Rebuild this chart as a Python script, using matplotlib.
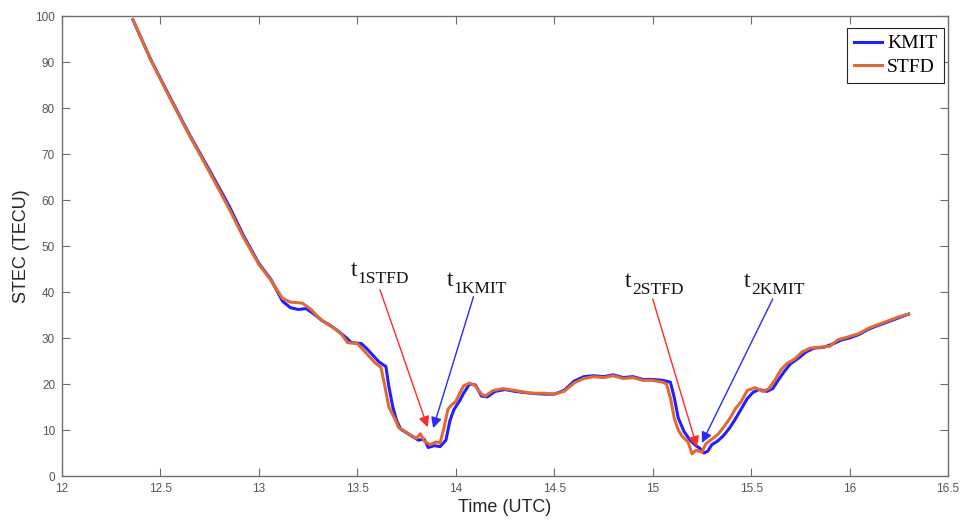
import matplotlib
matplotlib.use("Agg")
import matplotlib.pyplot as plt
from matplotlib.transforms import offset_copy

# STEC series (hours UTC, TECU)
stfd_t = [12.36, 12.45, 12.55, 12.65, 12.75, 12.85, 12.92, 13.00, 13.06, 13.12,
          13.16, 13.22, 13.26, 13.30, 13.34, 13.38, 13.42, 13.45, 13.50, 13.53,
          13.56, 13.59, 13.62, 13.64, 13.66, 13.69, 13.71, 13.74, 13.77, 13.80,
          13.82, 13.84, 13.87, 13.90, 13.92, 13.94, 13.96, 13.98, 14.00, 14.02,
          14.04, 14.07, 14.10, 14.13, 14.15, 14.19, 14.24, 14.30, 14.38, 14.45,
          14.50, 14.55, 14.60, 14.65, 14.70, 14.75, 14.80, 14.85, 14.90, 14.95,
          15.00, 15.05, 15.07, 15.09, 15.11, 15.13, 15.15, 15.18, 15.20, 15.22,
          15.25, 15.27, 15.30, 15.33, 15.36, 15.39, 15.42, 15.45, 15.48, 15.52,
          15.56, 15.59, 15.62, 15.65, 15.68, 15.72, 15.76, 15.80, 15.85, 15.90,
          15.94, 15.99, 16.05, 16.10, 16.15, 16.20, 16.25, 16.30]
stfd_v = [99.2, 90.5, 82.0, 73.8, 66.0, 58.0, 52.0, 46.0, 42.6, 38.6,
          37.8, 37.6, 36.4, 34.6, 33.2, 32.2, 30.8, 29.0, 28.8, 27.4,
          26.0, 24.6, 23.6, 19.5, 15.0, 12.5, 10.5, 9.8, 8.8, 8.2,
          9.2, 7.6, 6.8, 7.4, 7.2, 10.5, 14.5, 15.5, 16.2, 18.0,
          19.6, 20.2, 19.6, 17.8, 17.4, 18.6, 19.0, 18.6, 18.0, 18.0,
          17.8, 18.4, 20.2, 21.2, 21.6, 21.4, 21.8, 21.2, 21.4, 20.8,
          20.8, 20.4, 20.0, 17.0, 12.5, 10.0, 8.6, 7.4, 4.8, 5.6,
          5.2, 7.0, 8.0, 9.0, 10.6, 12.4, 14.6, 16.2, 18.6, 19.2,
          18.4, 19.0, 20.8, 23.0, 24.4, 25.4, 27.0, 27.8, 28.0, 28.2,
          29.6, 30.2, 31.0, 32.2, 33.0, 33.8, 34.6, 35.2]

kmit_t = [12.36, 12.45, 12.55, 12.65, 12.75, 12.85, 12.92, 13.00, 13.06, 13.12,
          13.16, 13.20, 13.24, 13.28, 13.32, 13.36, 13.40, 13.44, 13.47, 13.52,
          13.55, 13.58, 13.61, 13.645, 13.66, 13.68, 13.70, 13.72, 13.75, 13.78,
          13.81, 13.84, 13.86, 13.89, 13.92, 13.95, 13.97, 13.99, 14.02, 14.04,
          14.07, 14.10, 14.13, 14.16, 14.20, 14.25, 14.30, 14.38, 14.45, 14.50,
          14.55, 14.60, 14.65, 14.70, 14.75, 14.80, 14.85, 14.90, 14.95, 15.00,
          15.05, 15.09, 15.11, 15.13, 15.16, 15.19, 15.22, 15.24, 15.26, 15.28,
          15.30, 15.33, 15.36, 15.39, 15.42, 15.45, 15.48, 15.51, 15.54, 15.58,
          15.61, 15.64, 15.67, 15.70, 15.74, 15.78, 15.82, 15.87, 15.92, 15.96,
          16.00, 16.05, 16.10, 16.15, 16.20, 16.25, 16.30]
kmit_v = [99.2, 90.6, 82.2, 74.0, 66.4, 58.6, 52.4, 46.2, 42.8, 38.0,
          36.6, 36.2, 36.4, 35.2, 33.8, 32.8, 31.6, 30.2, 29.0, 28.8,
          27.6, 26.2, 24.8, 23.8, 19.5, 15.0, 12.0, 10.2, 9.4, 8.6,
          7.8, 8.0, 6.2, 6.6, 6.4, 7.8, 12.0, 14.4, 16.4, 18.0,
          20.0, 19.8, 17.4, 17.2, 18.4, 18.8, 18.4, 18.0, 17.8, 17.8,
          18.6, 20.6, 21.6, 21.8, 21.6, 22.0, 21.4, 21.6, 21.0, 21.0,
          20.8, 20.4, 17.0, 12.6, 9.6, 7.8, 6.6, 6.0, 5.0, 5.4,
          6.8, 7.6, 8.8, 10.4, 12.4, 14.6, 16.8, 18.2, 18.8, 18.4,
          19.0, 21.0, 22.8, 24.4, 25.6, 27.0, 27.8, 28.0, 28.8, 29.6,
          30.0, 30.8, 32.0, 32.8, 33.6, 34.4, 35.2]

# annotations: (subscript, "t" position, arrow tail, arrow tip, colour)
notes = [
    ("1STFD", (13.465, 43.4), (13.615, 40.5), (13.857, 10.6), "#ff2a2a"),
    ("1KMIT", (13.955, 41.4), (14.09, 39.0), (13.885, 10.4), "#2a2aff"),
    ("2STFD", (14.86, 41.0), (15.00, 38.5), (15.225, 6.3), "#ff2a2a"),
    ("2KMIT", (15.465, 41.0), (15.61, 38.5), (15.25, 7.2), "#2a2aff"),
]

fig = plt.figure(figsize=(9.6, 5.25), dpi=100)
ax = fig.add_axes([0.0646, 0.0933, 0.9229, 0.8762])

ax.plot(kmit_t, kmit_v, color="#1f1fff", lw=2.2, label="KMIT")
ax.plot(stfd_t, stfd_v, color="#e06a35", lw=2.2, label="STFD")

for sub, tpos, tail, tip, col in notes:
    ax.annotate("", xy=tip, xytext=tail,
                arrowprops=dict(arrowstyle="-|>", color=col, lw=1.0,
                                mutation_scale=16, shrinkA=0, shrinkB=0))
    ax.text(tpos[0], tpos[1], "t", fontsize=17, family="Liberation Serif",
            color="#111111", va="baseline", ha="left")
    tr = offset_copy(ax.transData, fig=fig, x=7, y=-7, units="dots")
    ax.text(tpos[0], tpos[1], sub, fontsize=12.5, family="Liberation Serif",
            color="#111111", va="baseline", ha="left", transform=tr)

ax.set_xlim(12, 16.5)
ax.set_ylim(0, 100)
ax.set_xticks([12, 12.5, 13, 13.5, 14, 14.5, 15, 15.5, 16, 16.5])
ax.set_xticklabels(["12", "12.5", "13", "13.5", "14", "14.5", "15", "15.5", "16", "16.5"])
ax.set_yticks(range(0, 101, 10))

for s in ax.spines.values():
    s.set_color("#6e6e6e")
    s.set_linewidth(1.0)
ax.tick_params(direction="in", length=6, width=0.8, color="#6e6e6e",
               top=True, right=True, labelsize=8.5, labelcolor="#555555", pad=5)
for lab in ax.get_xticklabels() + ax.get_yticklabels():
    lab.set_family("Liberation Sans")

ax.set_xlabel("Time (UTC)", fontsize=13, family="Liberation Sans", color="#262626", labelpad=3)
ax.set_ylabel("STEC (TECU)", fontsize=13, family="Liberation Sans", color="#262626", labelpad=4)

leg = ax.legend(loc="upper right", bbox_to_anchor=(0.9955, 0.974),
                prop={"family": "Liberation Serif", "size": 14},
                frameon=True, fancybox=False, edgecolor="#262626", framealpha=1,
                handlelength=1.45, handletextpad=0.25, borderpad=0.35,
                labelspacing=0.3, borderaxespad=0)
leg.get_frame().set_linewidth(0.8)

fig.savefig("out.png", dpi=100)
